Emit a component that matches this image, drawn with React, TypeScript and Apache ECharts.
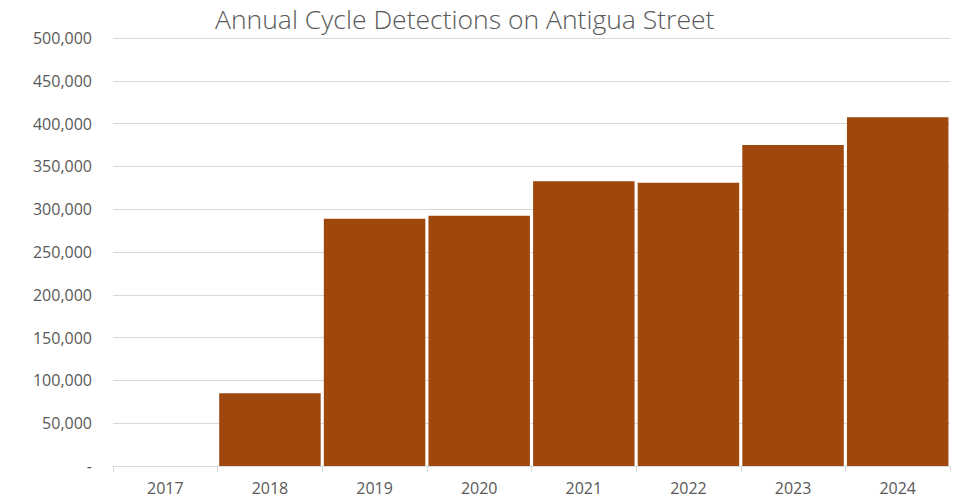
import React, { useEffect, useRef } from "react";
import * as echarts from "echarts";

const years = ["2017", "2018", "2019", "2020", "2021", "2022", "2023", "2024"];
const detections = [0, 84900, 288900, 292400, 332600, 331000, 375000, 407400];
const titleText = "Annual Cycle Detections on Antigua Street";

export default function App() {
  const ref = useRef<HTMLDivElement>(null);
  useEffect(() => {
    document.body.style.margin = "0";
    const chart = echarts.init(ref.current!, null, { renderer: "svg" });
    const font = "'Open Sans', 'Liberation Sans', sans-serif";
    chart.setOption({
      animation: false,
      backgroundColor: "#ffffff",
      title: {
        text: titleText,
        left: 210,
        top: 0,
        textStyle: { fontFamily: font, fontSize: 26.5, fontWeight: 300, color: "#595959" },
      },
      grid: { left: 113, right: 9, top: 38, bottom: 34, containLabel: false },
      xAxis: {
        type: "category",
        data: years,
        axisLine: { lineStyle: { color: "#d9d9d9", width: 1 } },
        axisTick: { show: true, length: 6, lineStyle: { color: "#d9d9d9" } },
        axisLabel: { fontFamily: font, fontSize: 16, color: "#595959", margin: 14 },
      },
      yAxis: {
        type: "value",
        min: 0,
        max: 500000,
        interval: 50000,
        axisLine: { show: false },
        axisTick: { show: false },
        splitLine: { lineStyle: { color: "#d9d9d9", width: 1 } },
        axisLabel: {
          fontFamily: font,
          fontSize: 16,
          color: "#595959",
          margin: 21,
          formatter: (v: number) => (v === 0 ? "-" : v.toLocaleString("en-US")),
        },
      },
      series: [
        {
          type: "bar",
          data: detections,
          barCategoryGap: "3%",
          itemStyle: { color: "#9E480E" },
        },
      ],
    });
    return () => chart.dispose();
  }, []);
  return <div ref={ref} style={{ width: 959, height: 500 }} />;
}
